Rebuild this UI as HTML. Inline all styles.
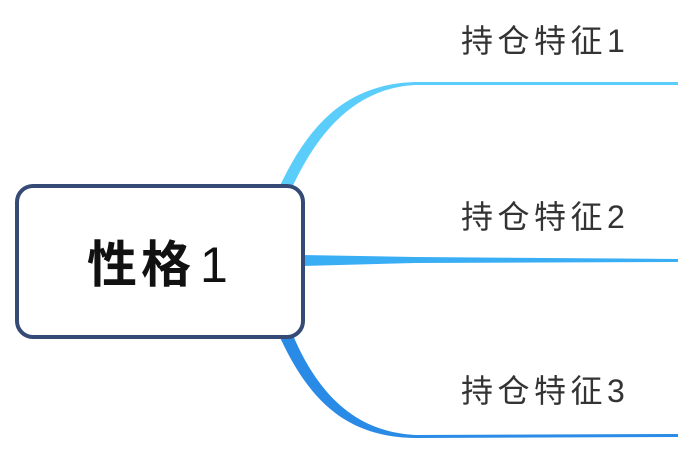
<!DOCTYPE html>
<html><head><meta charset="utf-8"><style>
html,body{margin:0;padding:0;background:#fff;width:678px;height:450px;overflow:hidden}
.t{position:absolute;font-family:"Liberation Sans","Noto Sans CJK SC",sans-serif;color:#333;font-size:32px;letter-spacing:4.5px;white-space:nowrap}
</style></head><body>
<svg width="678" height="450" style="position:absolute;left:0;top:0">
<path d="M278,190 C310,120 350,84 415,82 L678,82 L678,85 L415,85 C360,88 320,125 290,192 Z" fill="#5bcdfb"/>
<path d="M302,255 L415,257 L678,259 L678,262 L415,263 L302,266 Z" fill="#3aaef5"/>
<path d="M278,333 C310,405 350,437 415,438 L678,437 L678,434 L415,435 C360,432 320,400 292,333 Z" fill="#2a8be6"/>
<rect x="17" y="186" width="286" height="151" rx="16" fill="#fff" stroke="#354b76" stroke-width="4"/>
</svg>
<div class="t" style="left:87px;top:225px;font-size:50px;font-weight:bold;color:#111;letter-spacing:4px">性格<span style="font-weight:normal;margin-left:5px">1</span></div>
<div class="t" style="left:461px;top:16px">持仓特征1</div>
<div class="t" style="left:461px;top:192px">持仓特征2</div>
<div class="t" style="left:461px;top:366px">持仓特征3</div>
</body></html>
